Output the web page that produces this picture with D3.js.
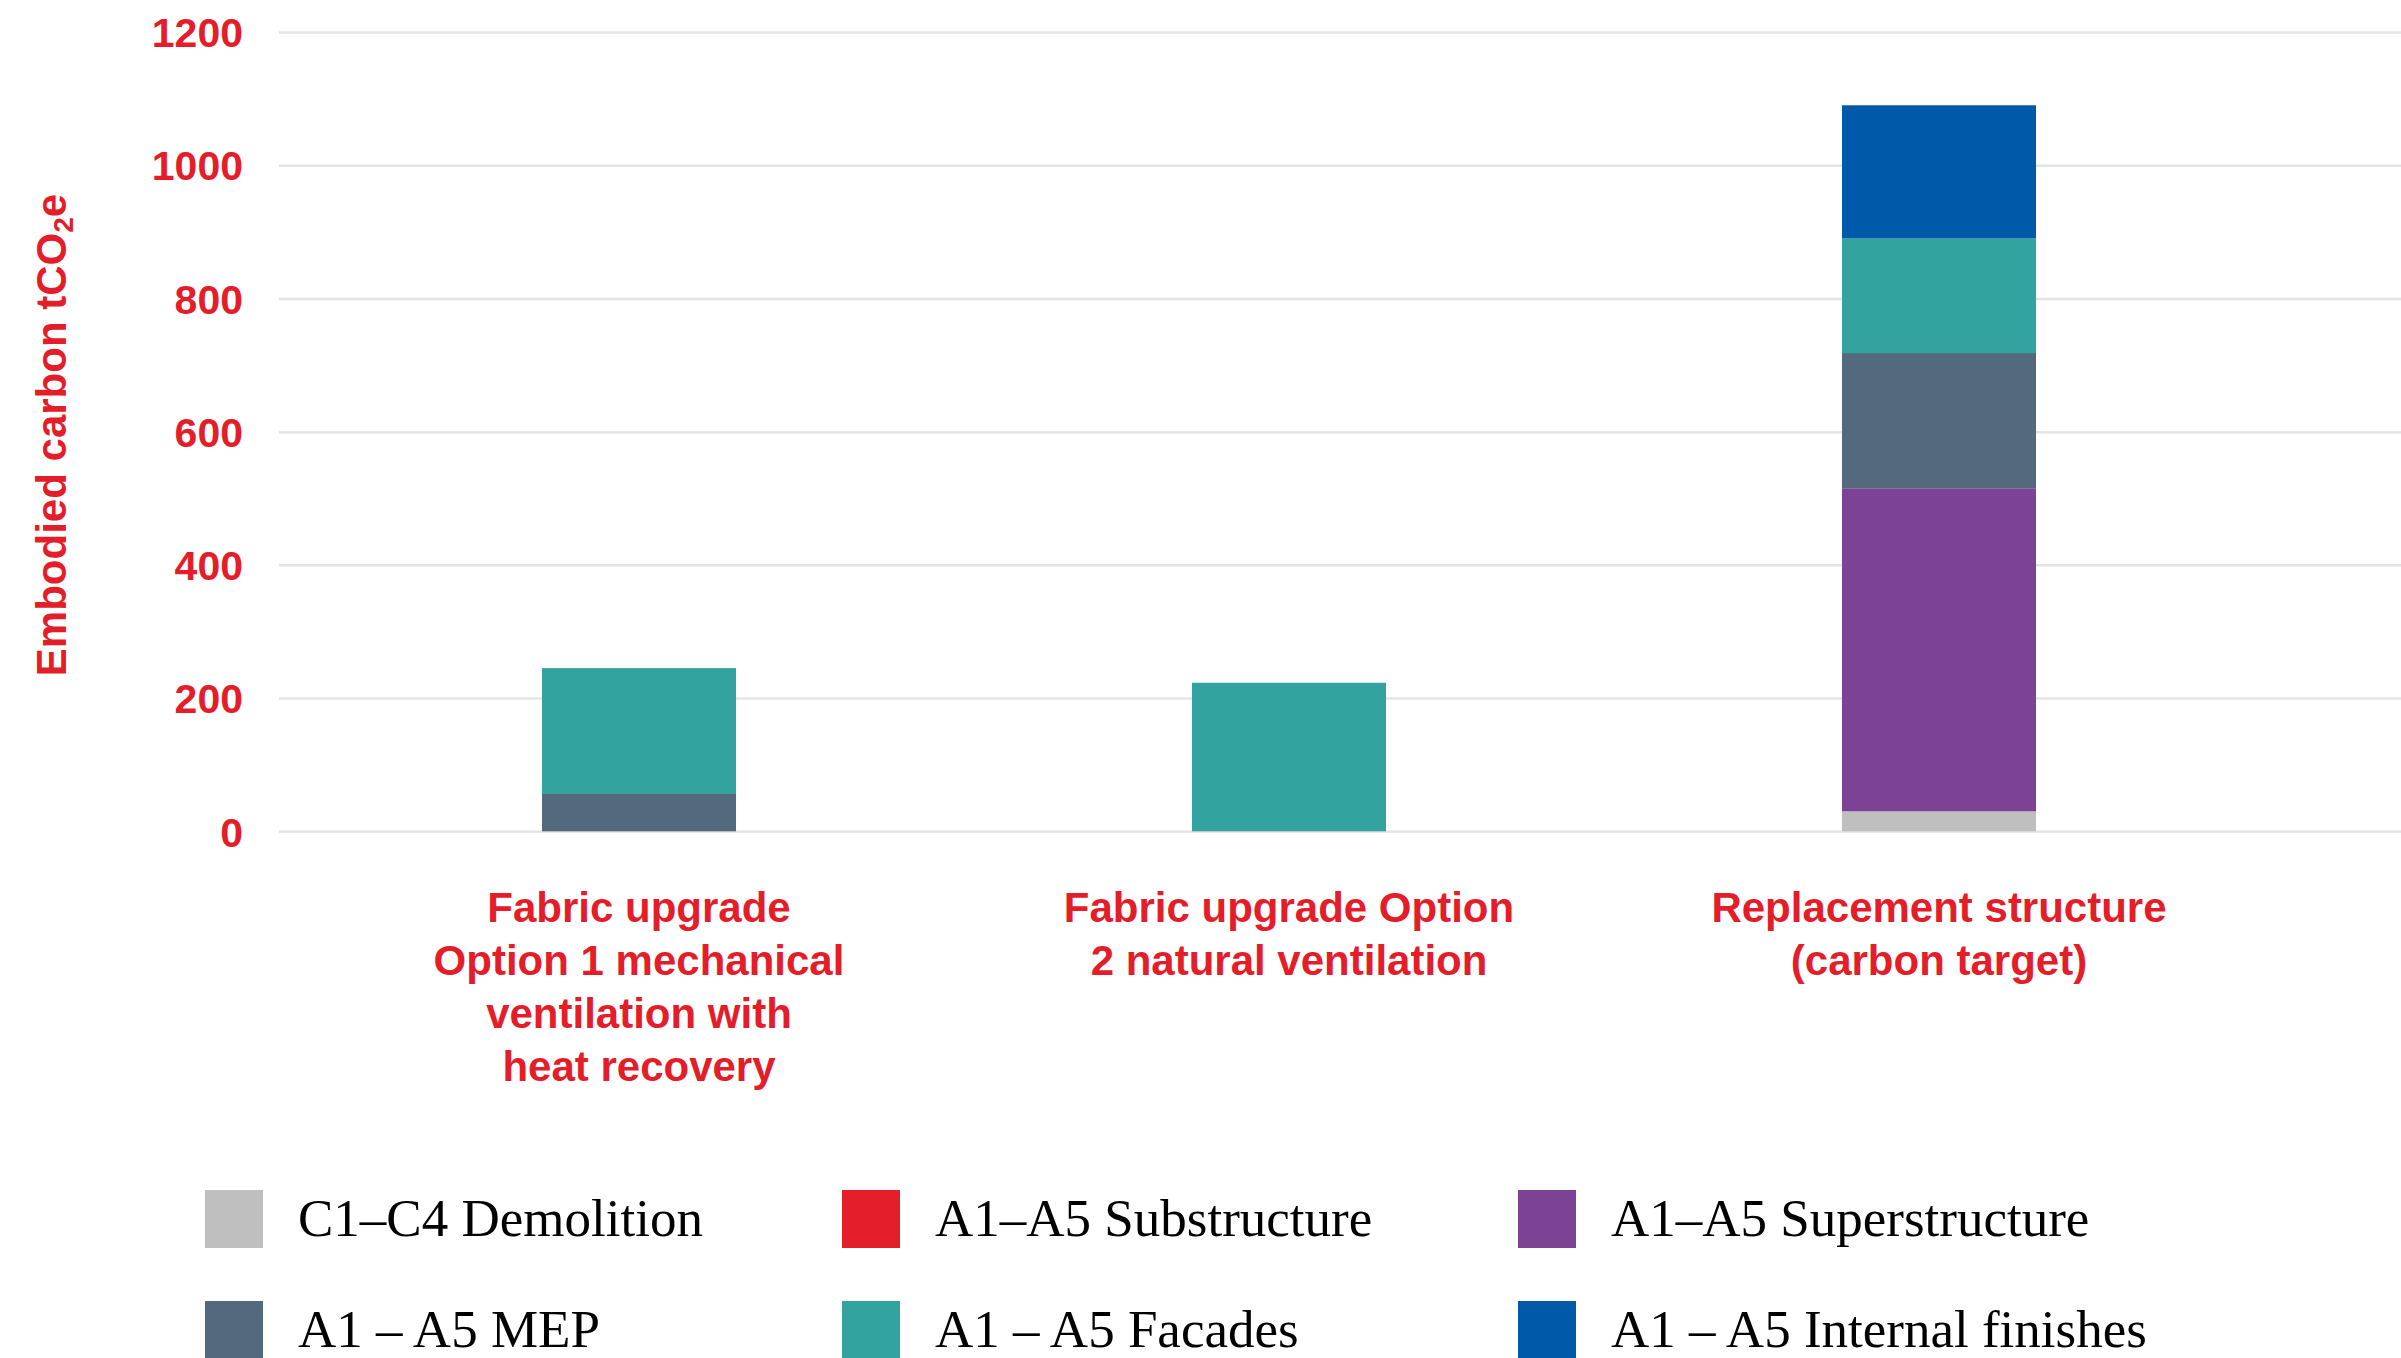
<!DOCTYPE html>
<html>
<head>
<meta charset="utf-8">
<script src="https://cdn.jsdelivr.net/npm/d3@7"></script>
<style>
  html, body { margin: 0; padding: 0; background: #ffffff; }
  svg { display: block; }
</style>
</head>
<body>
<svg id="chart" width="2401" height="1358"></svg>
<script>
// Options compared (each category label is split into its display lines)
const categories = ["opt1", "opt2", "replace"];
const categoryLines = [
  ["Fabric upgrade", "Option 1 mechanical", "ventilation with", "heat recovery"],
  ["Fabric upgrade Option", "2 natural ventilation"],
  ["Replacement structure", "(carbon target)"]
];

// Embodied carbon components, tCO2e, stacked bottom to top
const seriesKeys = ["demolition", "substructure", "superstructure", "mep", "facades", "finishes"];
const seriesNames = ["C1–C4 Demolition", "A1–A5 Substructure", "A1–A5 Superstructure",
                     "A1 – A5 MEP", "A1 – A5 Facades", "A1 – A5 Internal finishes"];
const seriesColors = ["#bfbfbf", "#e41f2a", "#7c4294", "#52697e", "#32a39e", "#005aa9"];

const demolition     = [0, 0, 30];
const substructure   = [0, 0, 0];
const superstructure = [0, 0, 485];
const mep            = [56, 0, 203];
const facades        = [189, 223, 172];
const finishes       = [0, 0, 200];

const yTicks = [0, 200, 400, 600, 800, 1000, 1200];

const valuesByKey = { demolition, substructure, superstructure, mep, facades, finishes };
const table = categories.map((c, i) => {
  const row = { category: c };
  seriesKeys.forEach(k => { row[k] = valuesByKey[k][i]; });
  return row;
});

const RED = "#e31e2a";
const sans = "'Liberation Sans', Arial, sans-serif";
const serif = "'Liberation Serif', 'Times New Roman', serif";

const svg = d3.select("#chart");

const plotLeft = 279, plotRight = 2401;
const y = d3.scaleLinear().domain([0, 1200]).range([831.3, 32]);
const x = d3.scaleBand()
  .domain(categories)
  .range([314, 2264])
  .paddingInner(0.7015)
  .paddingOuter(0.35075);

// Gridlines and value labels
const yAxis = svg.append("g")
  .attr("transform", `translate(${plotLeft},0)`)
  .call(d3.axisLeft(y)
    .tickValues(yTicks)
    .tickFormat(d3.format("d"))
    .tickSize(-(plotRight - plotLeft))
    .tickPadding(36));
yAxis.select(".domain").remove();
yAxis.selectAll(".tick line").attr("stroke", "#e4e4e4").attr("stroke-width", 2.5);
yAxis.selectAll(".tick text")
  .attr("fill", RED)
  .attr("font-family", sans)
  .attr("font-weight", "bold")
  .attr("font-size", 41)
  .attr("dy", "0.36em");

// Stacked bars
const stacked = d3.stack().keys(seriesKeys)(table);
const color = d3.scaleOrdinal().domain(seriesKeys).range(seriesColors);

svg.append("g").selectAll("g")
  .data(stacked)
  .join("g")
  .attr("fill", d => color(d.key))
  .selectAll("rect")
  .data(d => d.filter(s => s[1] - s[0] > 0))
  .join("rect")
  .attr("x", d => x(d.data.category))
  .attr("width", x.bandwidth())
  .attr("y", d => y(d[1]))
  .attr("height", d => y(d[0]) - y(d[1]));

// Category labels under the bars
const lineGap = 53;
svg.append("g").selectAll("text")
  .data(categories)
  .join("text")
  .attr("text-anchor", "middle")
  .attr("fill", RED)
  .attr("font-family", sans)
  .attr("font-weight", "bold")
  .attr("font-size", 42)
  .each(function (c, i) {
    const cx = x(c) + x.bandwidth() / 2;
    d3.select(this).selectAll("tspan")
      .data(categoryLines[i])
      .join("tspan")
      .attr("x", cx)
      .attr("y", (d, j) => 922 + j * lineGap)
      .text(d => d);
  });

// Vertical axis title
const title = svg.append("text")
  .attr("transform", "translate(66,435) rotate(-90)")
  .attr("text-anchor", "middle")
  .attr("fill", RED)
  .attr("font-family", sans)
  .attr("font-weight", "bold")
  .attr("font-size", 42);
title.append("tspan").text("Embodied carbon tCO");
title.append("tspan").attr("font-size", 28).attr("dy", 7).text("2");
title.append("tspan").attr("dy", -7).text("e");

// Legend: two rows of three
const legendCols = [205, 842, 1518];
const legendRows = [1190, 1301];
const swatch = 58;
const legend = svg.append("g").selectAll("g")
  .data(seriesKeys)
  .join("g")
  .attr("transform", (d, i) => `translate(${legendCols[i % 3]},${legendRows[Math.floor(i / 3)]})`);
legend.append("rect")
  .attr("width", swatch)
  .attr("height", swatch)
  .attr("fill", d => color(d));
legend.append("text")
  .attr("x", 93)
  .attr("y", 46)
  .attr("fill", "#000")
  .attr("font-family", serif)
  .attr("font-size", 53)
  .text((d, i) => seriesNames[i]);
</script>
</body>
</html>
